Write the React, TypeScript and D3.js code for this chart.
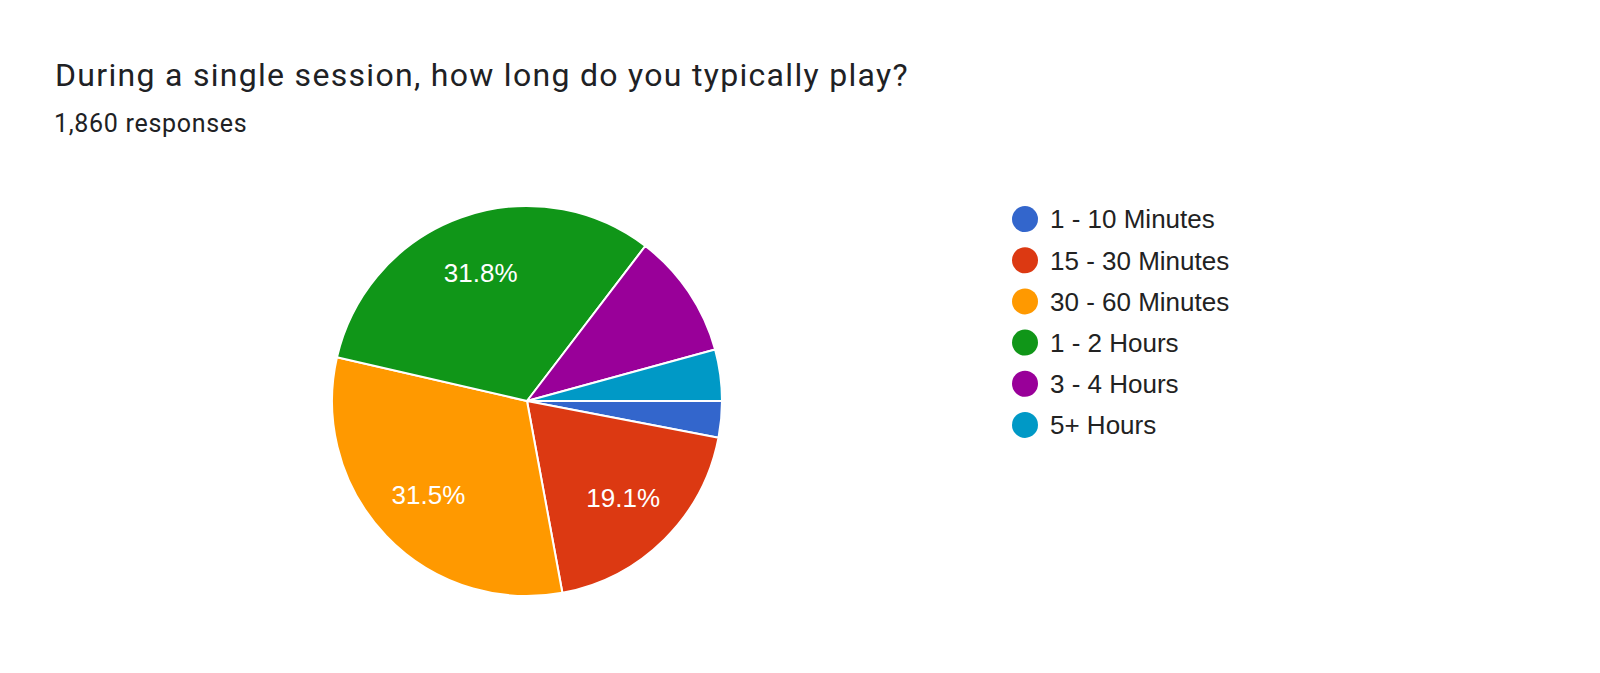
import { useRef, useEffect } from 'react';
import * as d3 from 'd3';

const title = 'During a single session, how long do you typically play?';
const subtitle = '1,860 responses';

const categories = ['1 - 10 Minutes', '15 - 30 Minutes', '30 - 60 Minutes', '1 - 2 Hours', '3 - 4 Hours', '5+ Hours'];
const counts = [56, 355, 586, 591, 193, 79];
const colors = ['#3366cc', '#dc3912', '#ff9900', '#109618', '#990099', '#0099c6'];

interface Slice {
  label: string;
  value: number;
  color: string;
}

export default function App() {
  const svgRef = useRef<SVGSVGElement>(null);

  useEffect(() => {
    document.body.style.margin = '0';
    const svg = d3.select(svgRef.current);
    svg.selectAll('*').remove();

    const width = 1600;
    const height = 673;
    const cx = 527;
    const cy = 401;
    const radius = 195;

    svg.attr('width', width).attr('height', height);

    svg.append('rect').attr('width', width).attr('height', height).attr('fill', '#ffffff');

    // Header
    svg.append('text')
      .attr('x', 55)
      .attr('y', 86)
      .attr('font-family', 'Roboto, Arial, sans-serif')
      .attr('font-size', 32)
      .attr('letter-spacing', 1.3)
      .attr('fill', '#202124')
      .text(title);

    svg.append('text')
      .attr('x', 54)
      .attr('y', 132)
      .attr('font-family', 'Roboto, Arial, sans-serif')
      .attr('font-size', 25)
      .attr('letter-spacing', 0.7)
      .attr('fill', '#202124')
      .text(subtitle);

    const data: Slice[] = categories.map((c, i) => ({ label: c, value: counts[i], color: colors[i] }));
    const total = d3.sum(counts);

    // Slices start at 3 o'clock and run clockwise
    const pie = d3.pie<Slice>()
      .sort(null)
      .value((d) => d.value)
      .startAngle(Math.PI / 2)
      .endAngle(Math.PI / 2 + 2 * Math.PI);

    const arc = d3.arc<d3.PieArcDatum<Slice>>().innerRadius(0).outerRadius(radius);
    const labelArc = d3.arc<d3.PieArcDatum<Slice>>().innerRadius(radius * 0.7).outerRadius(radius * 0.7);

    const g = svg.append('g').attr('transform', `translate(${cx},${cy})`);
    const arcs = pie(data);

    g.selectAll('path')
      .data(arcs)
      .join('path')
      .attr('d', arc)
      .attr('fill', (d) => d.data.color)
      .attr('stroke', '#ffffff')
      .attr('stroke-width', 2)
      .attr('stroke-linejoin', 'round');

    g.selectAll('text')
      .data(arcs.filter((d) => d.data.value / total > 0.15))
      .join('text')
      .attr('transform', (d) => `translate(${labelArc.centroid(d)})`)
      .attr('text-anchor', 'middle')
      .attr('dominant-baseline', 'central')
      .attr('font-family', 'Arial, "Liberation Sans", sans-serif')
      .attr('font-size', 26)
      .attr('fill', '#ffffff')
      .text((d) => `${((d.data.value / total) * 100).toFixed(1)}%`);

    // Legend
    const legendY = d3.scaleBand<string>()
      .domain(categories)
      .range([198.5, 445.5]);

    const legend = svg.append('g')
      .selectAll('g')
      .data(data)
      .join('g')
      .attr('transform', (d) => `translate(1025,${(legendY(d.label) ?? 0) + legendY.bandwidth() / 2})`);

    legend.append('circle')
      .attr('r', 13)
      .attr('fill', (d) => d.color);

    legend.append('text')
      .attr('x', 25)
      .attr('dy', '0.36em')
      .attr('font-family', 'Arial, "Liberation Sans", sans-serif')
      .attr('font-size', 26)
      .attr('fill', '#222222')
      .text((d) => d.label);
  }, []);

  return (
    <div>
      <svg ref={svgRef} style={{ display: 'block' }} />
    </div>
  );
}
